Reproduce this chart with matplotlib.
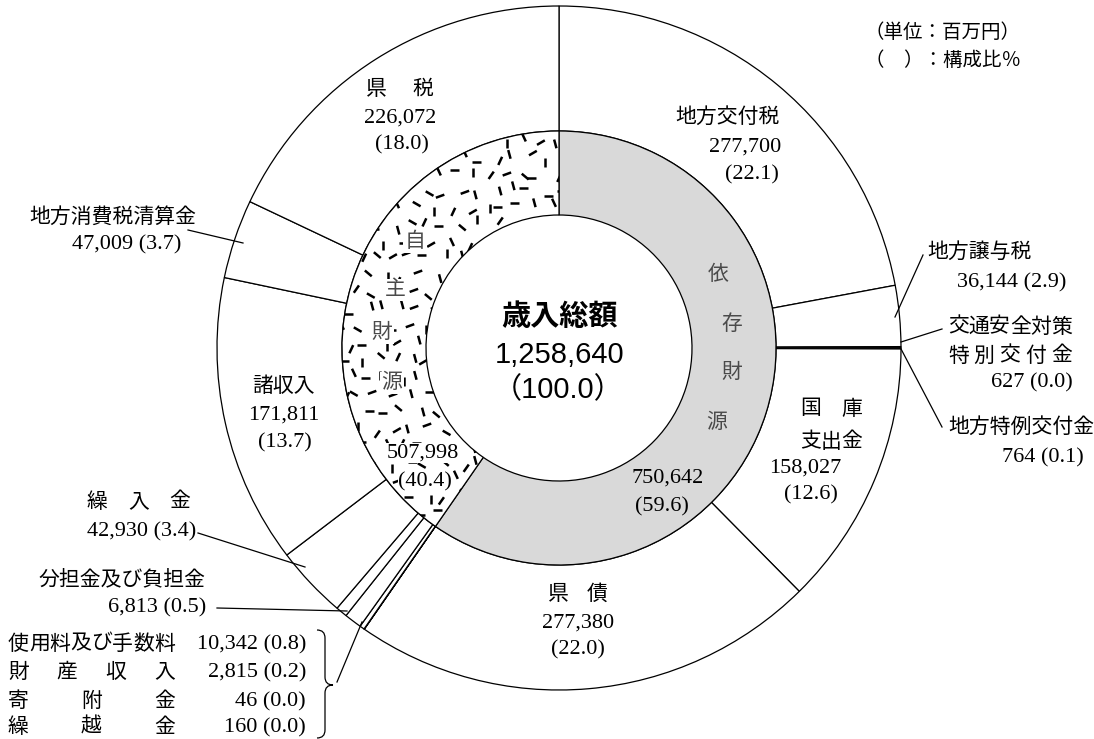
import matplotlib
matplotlib.use("Agg")
import matplotlib.pyplot as plt
from matplotlib.collections import LineCollection
from matplotlib.patches import PathPatch
from matplotlib.path import Path
import numpy as np

plt.rcParams['font.family'] = ['Liberation Serif', 'Noto Sans CJK JP']

# 歳入 (単位：百万円), clockwise from 12 o'clock
items = ['地方交付税', '地方譲与税', '交通安全対策特別交付金', '地方特例交付金', '国庫支出金', '県債',
         '繰越金', '寄附金', '財産収入', '使用料及び手数料', '分担金及び負担金', '繰入金',
         '諸収入', '地方消費税清算金', '県税']
amounts = [277700, 36144, 627, 764, 158027, 277380,
           160, 46, 2815, 10342, 6813, 42930,
           171811, 47009, 226072]
shares = [22.1, 2.9, 0.0, 0.1, 12.6, 22.0,
          0.0, 0.0, 0.2, 0.8, 0.5, 3.4,
          13.7, 3.7, 18.0]

groups = ['依存財源', '自主財源']
group_amounts = [750642, 507998]
group_shares = [59.6, 40.4]
total_amount = 1258640
total_share = 100.0

W, H = 1094, 739
fig = plt.figure(figsize=(W / 100, H / 100), dpi=100)
ax = fig.add_axes([0, 0, 1, 1])


def Y(y):
    # pixel row -> data y
    return H - y


cx, cy = 559, Y(348)
R_out, R_mid, R_in = 342, 217, 133
LW = 0.9
FS = 15
FN = 16  # numbers


def num(i):
    return f"{amounts[i]:,}"


def pct(i):
    return f"({shares[i]:.1f})"


outer, _ = ax.pie(amounts, radius=R_out, center=(cx, cy), startangle=90, counterclock=False,
                  colors=['white'] * len(amounts),
                  wedgeprops=dict(width=R_out - R_mid, edgecolor='black', linewidth=LW))
inner, _ = ax.pie(group_amounts, radius=R_mid, center=(cx, cy), startangle=90, counterclock=False,
                  colors=['#d9d9d9', 'white'],
                  wedgeprops=dict(width=R_mid - R_in, edgecolor='black', linewidth=LW))

# dash texture for 自主財源 (scrambled grid, no randomness)
segs = []
step = 17
angs = [0, 30, 55, 90, 115, 140, 0, 90, 65, 150, 20, 105]
for i, gx in enumerate(np.arange(cx - R_mid, cx + R_mid + step, step)):
    for j, gy in enumerate(np.arange(cy - R_mid, cy + R_mid + step, step)):
        h = (i * 7919 + j * 104729 + i * j * 31) % 997
        a = np.deg2rad(angs[h % len(angs)])
        px = gx + (h % 9 - 4) * 1.3 + (j % 2) * 8
        py = gy + ((h // 9) % 9 - 4) * 1.3
        dx, dy = 4.5 * np.cos(a), 4.5 * np.sin(a)
        segs.append([(px - dx, py - dy), (px + dx, py + dy)])
lc = LineCollection(segs, colors='black', linewidths=1.8, capstyle='butt', zorder=3)
ax.add_collection(lc)
lc.set_clip_path(inner[1])


def txt(x, y, s, fs=FS, **kw):
    kw.setdefault('ha', 'center')
    return ax.text(x, Y(y), s, fontsize=fs, va='center', zorder=5, **kw)


def spread(s, x0, x1, y, fs=FS, **kw):
    em = fs * 100 / 72
    xs = np.linspace(x0 + em / 2, x1 - em / 2, len(s))
    for ch, x in zip(s, xs):
        ax.text(x, Y(y), ch, fontsize=fs, ha='center', va='center', zorder=5, **kw)


def leader(x0, y0, x1, y1):
    ax.plot([x0, x1], [Y(y0), Y(y1)], color='black', lw=LW, zorder=4)


def both(i):
    return num(i) + " " + pct(i)


# 県税
spread('県税', 366, 433, 90)
txt(400, 118, num(14), fs=FN)
txt(402, 145, pct(14), fs=FN)
# 地方交付税
txt(780, 118, items[0], ha='right')
txt(781, 147, num(0), ha='right', fs=FN)
txt(779, 175, pct(0), ha='right', fs=FN)
# 地方譲与税
txt(927, 253, items[1], ha='left')
txt(1066, 283, both(1), ha='right', fs=FN)
leader(923, 255, 895, 317)
# 交通安全対策特別交付金
spread('交通安全対策', 948, 1072, 328)
spread('特別交付金', 948, 1072, 357)
txt(1073, 383, both(2), ha='right', fs=FN)
leader(942, 329, 901, 342)
# 地方特例交付金
txt(948, 428, items[3], ha='left')
txt(1084, 458, both(3), ha='right', fs=FN)
leader(942, 427, 900, 347)
# 国庫支出金
spread('国庫', 800, 862, 410)
spread('支出金', 800, 862, 443)
txt(841, 468, num(4), ha='right', fs=FN)
txt(811, 495, pct(4), fs=FN)
# 県債
spread('県債', 548, 608, 595)
txt(578, 623, num(5), fs=FN)
txt(578, 650, pct(5), fs=FN)
# 諸収入
txt(284, 387, items[12])
txt(284, 415, num(12), fs=FN)
txt(285, 443, pct(12), fs=FN)
# 繰入金
spread('繰入金', 87, 190, 503)
txt(196, 532, both(11), ha='right', fs=FN)
leader(198, 533, 305, 567)
# 分担金及び負担金
txt(206, 580, items[10], ha='right')
txt(206, 608, both(10), ha='right', fs=FN)
leader(217, 608, 347, 611)
# 地方消費税清算金
txt(196, 218, items[13], ha='right')
txt(181, 245, both(13), ha='right', fs=FN)
leader(188, 230, 243, 243)

# small items listed at bottom left
for i, y in zip([9, 8, 7, 6], [645, 673, 702, 728]):
    spread(items[i], 8, 175, y)
    txt(306, y, both(i), ha='right', fs=FN)

# brace
bx0, bxm, bxt = 317, 325, 333
bt, bm, bb = 630, 685, 738
verts = [(bx0, bt), (bxm, bt), (bxm, bt + 8), (bxm, bm - 8), (bxm, bm), (bxt, bm),
         (bxm, bm), (bxm, bm + 8), (bxm, bb - 8), (bxm, bb), (bx0, bb)]
codes = [Path.MOVETO, Path.CURVE3, Path.CURVE3, Path.LINETO, Path.CURVE3, Path.CURVE3,
         Path.CURVE3, Path.CURVE3, Path.LINETO, Path.CURVE3, Path.CURVE3]
verts = [(x, Y(y)) for x, y in verts]
ax.add_patch(PathPatch(Path(verts, codes), fill=False, edgecolor='black', lw=LW, zorder=4))
leader(337, 682, 362, 622)

# inner ring labels
grey = '#4a4a4a'
box = dict(boxstyle='square,pad=0.08', facecolor='white', edgecolor='none')
box2 = dict(boxstyle='square,pad=0.02', facecolor='white', edgecolor='none')
for ch, (x, y) in zip(groups[1], [(415, 242), (395, 290), (382, 333), (392, 383)]):
    txt(x, y, ch, color=grey, bbox=box)
txt(423, 453, f"{group_amounts[1]:,}", fs=FN, bbox=box2)
txt(425, 482, f"({group_shares[1]:.1f})", fs=FN, bbox=box2)
for ch, (x, y) in zip(groups[0], [(718, 275), (732, 325), (732, 373), (717, 423)]):
    txt(x, y, ch, color=grey)
txt(668, 478, f"{group_amounts[0]:,}", fs=FN)
txt(662, 507, f"({group_shares[0]:.1f})", fs=FN)

# centre
sans = ['Liberation Sans', 'Noto Sans CJK JP']
txt(559, 317, '歳入総額', fs=21, family=sans, weight='bold')
txt(560, 355, f"{total_amount:,}", fs=21, family=sans)
txt(558, 390, f"（{total_share:.1f}）", fs=21, family=sans)

# unit note
txt(865, 33, '（単位：百万円）', ha='left', fs=14)
txt(865, 61, '（　）：構成比％', ha='left', fs=14)

ax.set_xlim(0, W)
ax.set_ylim(0, H)
ax.set_aspect('equal')
ax.axis('off')
fig.savefig('out.png', dpi=100, facecolor='white')
